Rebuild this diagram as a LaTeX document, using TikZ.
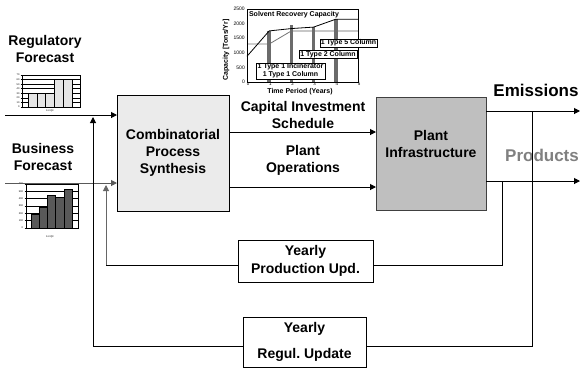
\documentclass[tikz,border=0pt]{standalone}
\usepackage{fontspec}
\setmainfont{Liberation Sans}
\usetikzlibrary{arrows.meta}
\begin{document}
\frenchspacing
\begin{tikzpicture}[x=1pt,y=-1pt,
  every node/.style={inner sep=0pt, outer sep=0pt},
  lbl/.style={font=\fontsize{14}{17}\selectfont\bfseries, align=center},
  big/.style={font=\fontsize{17}{20}\selectfont\bfseries},
  arr/.style={-{Triangle[length=6pt,width=6pt]}, line width=1pt},
  ln/.style={line width=1pt},
  box/.style={draw, line width=1pt, rectangle, align=center},
  cbox/.style={draw, fill=white, line width=0.8pt, font=\fontsize{7}{8}\selectfont\bfseries, align=center},
  small/.style={font=\fontsize{7}{8}\selectfont\bfseries},
  tiny/.style={font=\fontsize{2.5}{3}\selectfont},
  tick/.style={font=\fontsize{5}{6}\selectfont},
  xtick/.style={font=\fontsize{4.5}{5}\selectfont},
]
\useasboundingbox (0,0) rectangle (581,368);

% main boxes
\node[box, fill=black!8, minimum width=112pt, minimum height=116pt, lbl] (comb) at (173,153) {Combinatorial\\Process\\Synthesis};
\node[box, fill=black!25, draw=black!75, minimum width=110pt, minimum height=113pt] (plant) at (431,153.5) {};
\node[lbl] (plantlbl) at (431,144) {Plant\\Infrastructure};
\node[box, fill=white, minimum width=135pt, minimum height=42pt, font=\fontsize{14}{18}\selectfont\bfseries] (prod) at (305.5,261) {Yearly\\Production Upd.};
\node[box, fill=white, minimum width=123pt, minimum height=50pt, font=\fontsize{14}{26}\selectfont\bfseries] (regu) at (304.5,342) {Yearly\\Regul. Update};

% labels
\node[lbl] (regf) at (45,49) {Regulatory\\Forecast};
\node[lbl] (busf) at (43,157) {Business\\Forecast};
\node[lbl] (cap) at (303,115) {Capital Investment\\Schedule};
\node[lbl] (ops) at (303,160) {Plant\\Operations};
\node[big] (emis) at (536,90) {Emissions};
\node[big, text=black!50] (prodl) at (542,155) {Products};

% regulatory chart
\foreach \k in {0,...,7} {
  \draw[line width=0.6pt] (22,{107-\k*32/7}) -- (80,{107-\k*32/7});
  \draw[line width=0.5pt] (20.5,{107-\k*32/7}) -- (22,{107-\k*32/7});
  \node[tiny, anchor=east] at (19.5,{107-\k*32/7}) {\pgfmathparse{int(\k*10)}\pgfmathresult};
}
\foreach \i/\h in {0/13.7,1/13.7,2/13.7,3/28,4/28}
  \draw[fill=black!10, line width=0.6pt] ({28+\i*8.8},107) rectangle ({36.8+\i*8.8},{107-\h});
\draw[line width=0.6pt] (22,75) rectangle (80,107);
\node[tiny] (regx) at (50,110.5) {1st Qtr};

% business chart
\foreach \k in {0,...,6} {
  \draw[line width=0.6pt] (26,{228-\k*44/6}) -- (78,{228-\k*44/6});
  \draw[line width=0.5pt] (24.5,{228-\k*44/6}) -- (26,{228-\k*44/6});
  \node[tiny, anchor=east] at (23,{228-\k*44/6}) {\pgfmathparse{int(\k*100)}\pgfmathresult};
}
\foreach \i/\h in {0/13.9,1/20.9,2/32.3,3/30.8,4/38.9}
  \draw[fill=black!65, line width=0.6pt] ({31+\i*8.2},228) rectangle ({39.2+\i*8.2},{228-\h});
\draw[line width=0.6pt] (26,184) -- (26,228) -- (78,228) -- (78,184);
\node[tiny] (busx) at (50,237) {1st Qtr};

% capacity chart
\begin{scope}[shift={(247,82)}, x=22.2pt, y=0.0292pt]
  \draw[black!55, line width=0.8pt] (0,1300) -- (1,1300) -- (2,1750);
  \draw[black!22, line width=2pt] (2,1750) -- (5,1750);
  \foreach \t/\v in {1/1750,2/1950,3/1900,4/2150}
    \fill[black!58] ({\t-0.08},0) rectangle ({\t+0.08},\v);
  \draw[line width=0.8pt] (0,880) -- (1,1750) -- (2,1830) -- (3,1880) -- (4,2150) -- (5,2150);
  \draw[line width=0.8pt] (0,0) rectangle (5,2500);
  \foreach \v in {0,500,...,2500} \node[tick, anchor=east] at (-0.1,\v) {\v};
  \foreach \t in {0,...,5} \node[xtick, anchor=north] at ({\t+0.05},-15) {\t};
\end{scope}
\node[small] (ttl) at (294,15) {Solvent Recovery Capacity};
\node[small] (tp) at (300,91.5) {Time Period (Years)};
\node[small, rotate=90] (yl) at (226,50) {Capacity [Tons/Yr]};
\node[cbox, minimum width=69pt, minimum height=16pt] (ba) at (290.5,71) {1 Type 1 Incinerator\\1 Type 1 Column};
\node[cbox, minimum width=58pt, minimum height=7.5pt] (bb) at (328,54.5) {1 Type 2 Column};
\node[cbox, minimum width=57pt, minimum height=8pt] (bc) at (348.5,43) {1 Type 5 Column};

% connectors
\coordinate (rin) at (5,115);
\coordinate (bin) at (5,183);
\coordinate (capy) at (0,132);
\coordinate (opsy) at (0,187);
\coordinate (eout) at (580,111);
\coordinate (pout) at (580,181);
\draw[arr] (rin) -- (comb.west |- rin);
\draw[arr, draw=black!65] (bin) -- (comb.west |- bin);
\draw[arr] (comb.east |- capy) -- (plant.west |- capy);
\draw[arr] (comb.east |- opsy) -- (plant.west |- opsy);
\draw[arr] (plant.east |- eout) -- (eout);
\draw[arr] (plant.east |- pout) -- (pout);

% outer loop (regulation)
\coordinate (ej) at (532,111);
\coordinate (ry) at (0,346);
\coordinate (rtip) at (93,117);
\draw[ln] (ej) |- (regu.east |- ry);
\draw[arr] (regu.west |- ry) -| (rtip);

% inner loop (production)
\coordinate (pj) at (502,181);
\coordinate (py) at (0,265);
\coordinate (pc) at (106,265);
\coordinate (ptip) at (106,185);
\draw[ln] (pj) |- (prod.east |- py);
\draw[ln] (prod.west |- py) -- (pc);
\draw[arr, draw=black!60] (pc) -- (ptip);
\end{tikzpicture}
\end{document}
